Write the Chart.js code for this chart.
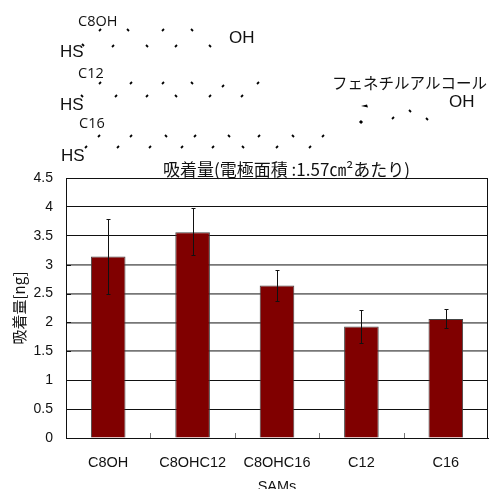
<!DOCTYPE html>
<html>
<head>
<meta charset="utf-8">
<style>
	html, body { margin: 0; padding: 0; background: #fff; overflow: hidden; }
	#wrap { position: relative; width: 491px; height: 489px; }
</style>
<script src="https://cdn.jsdelivr.net/npm/chart.js@4/dist/chart.umd.js"></script>
</head>
<body>
<div id="wrap"><canvas id="sams_chart" width="491" height="489"></canvas></div>
<script>
const categories = ['C8OH', 'C8OHC12', 'C8OHC16', 'C12', 'C16'];
const adsorption = [3.14, 3.56, 2.64, 1.93, 2.06];
const errorHigh = [3.79, 3.98, 2.91, 2.21, 2.23];
const errorLow = [2.50, 3.16, 2.37, 1.64, 1.90];
const yTicks = [0, 0.5, 1, 1.5, 2, 2.5, 3, 3.5, 4, 4.5];
const greyTicks = [1.5, 2, 2.5, 3];

const latin = '"Liberation Sans", Arial, sans-serif';
const jp = '"Noto Sans CJK JP", sans-serif';

// the molecule drawings above the chart: [x, y, slant]
const bonds = [
	[100, 30, 1], [128, 30, -1], [163, 30, 1], [192, 30, -1],
	[83, 45, -1], [113, 46, 1], [147, 46, -1], [176, 46, 1], [210, 46, -1],
	[100, 83, 1], [131, 83, 1], [163, 83, 1], [192, 83, -1], [223, 86, 1], [258, 83, 1],
	[82, 96, -1], [116, 96, 1], [147, 96, 1], [176, 96, -1], [210, 96, 1], [242, 96, 1],
	[99, 136, 1], [131, 136, 1], [166, 136, -1], [195, 136, 1], [229, 136, -1], [259, 136, 1], [293, 136, -1], [323, 136, 1],
	[86, 147, 1], [118, 147, 1], [150, 147, 1], [182, 147, 1], [213, 147, 1], [243, 147, -1], [277, 147, 1], [310, 147, 1],
	[393, 118, 1], [410, 111, -1], [427, 119, -1]
];
// text, x, baseline, font
const labels = [
	['C8OH', 78, 26, '14.5px "Open Sans", sans-serif'],
	['C12', 78, 78, '14.5px "Open Sans", sans-serif'],
	['C16', 79, 128, '14.5px "Open Sans", sans-serif'],
	['HS', 60, 57, '17px ' + latin],
	['HS', 60, 110, '17px ' + latin],
	['HS', 61, 161, '17px ' + latin],
	['OH', 229, 43, '17px ' + latin],
	['OH', 449, 107, '17px ' + latin],
	['フェネチルアルコール', 332, 89, '15.5px ' + jp],
	['吸着量(電極面積 :1.57㎝²あたり)', 163, 176, '17px ' + jp]
];

// error bars, tick marks and the molecule drawings
const overlay = {
	id: 'overlay',
	afterDatasetsDraw(chart) {
		const ctx = chart.ctx;
		const x = chart.scales.x;
		const y = chart.scales.y;

		ctx.save();
		ctx.strokeStyle = '#111';
		ctx.lineWidth = 1;

		// right border of the plot
		ctx.beginPath();
		ctx.moveTo(x.right - 0.5, y.top);
		ctx.lineTo(x.right - 0.5, y.bottom);
		ctx.stroke();

		categories.forEach((c, i) => {
			const px = Math.round(x.getPixelForValue(i)) + 0.5;
			const top = Math.round(y.getPixelForValue(errorHigh[i])) + 0.5;
			const bottom = Math.round(y.getPixelForValue(errorLow[i])) + 0.5;
			ctx.beginPath();
			ctx.moveTo(px, top);
			ctx.lineTo(px, bottom);
			ctx.moveTo(px - 2, top);
			ctx.lineTo(px + 2, top);
			ctx.moveTo(px - 2, bottom);
			ctx.lineTo(px + 2, bottom);
			ctx.stroke();
		});

		// short inward ticks on the grey gridlines
		greyTicks.forEach(v => {
			const py = Math.round(y.getPixelForValue(v)) + 0.5;
			ctx.beginPath();
			ctx.moveTo(x.left, py);
			ctx.lineTo(x.left + 5, py);
			ctx.stroke();
		});

		// category separators, pointing up from the axis
		ctx.strokeStyle = '#777';
		for (let i = 1; i < categories.length; i++) {
			const px = Math.round((x.getPixelForValue(i - 1) + x.getPixelForValue(i)) / 2) + 0.5;
			ctx.beginPath();
			ctx.moveTo(px, y.bottom);
			ctx.lineTo(px, y.bottom - 5);
			ctx.stroke();
		}
		ctx.restore();
	},
	afterDraw(chart) {
		const ctx = chart.ctx;
		ctx.save();
		ctx.strokeStyle = '#000';
		ctx.fillStyle = '#000';
		ctx.lineWidth = 1.8;
		bonds.forEach(b => {
			ctx.beginPath();
			ctx.moveTo(b[0] - 1, b[1] + b[2]);
			ctx.lineTo(b[0] + 1, b[1] - b[2]);
			ctx.stroke();
		});

		// the two heavier bonds at the phenyl end
		ctx.beginPath();
		ctx.moveTo(361, 106);
		ctx.lineTo(367, 104.5);
		ctx.lineTo(368, 107.5);
		ctx.closePath();
		ctx.fill();
		ctx.lineWidth = 3;
		ctx.beginPath();
		ctx.moveTo(360, 123);
		ctx.lineTo(362, 121);
		ctx.stroke();

		ctx.fillStyle = '#111';
		ctx.textBaseline = 'alphabetic';
		ctx.textAlign = 'left';
		labels.forEach(l => {
			ctx.font = l[3];
			ctx.fillText(l[0], l[1], l[2]);
		});
		ctx.restore();
	}
};

const ctx = document.getElementById('sams_chart').getContext('2d');
const myChart = new Chart(ctx, {
	type: 'bar',
	data: {
		labels: categories,
		datasets: [{
			label: '吸着量',
			data: adsorption,
			backgroundColor: '#800000',
			borderColor: '#444',
			borderWidth: 1,
			categoryPercentage: 1,
			barPercentage: 0.41
		}]
	},
	plugins: [overlay],
	options: {
		responsive: false,
		animation: false,
		layout: { padding: { top: 178, left: 0, right: 3, bottom: 0 } },
		plugins: {
			legend: { display: false },
			tooltip: { enabled: false },
			title: { display: false }
		},
		scales: {
			x: {
				afterFit(scale) { scale.height = 51; },
				grid: { display: false, drawTicks: false },
				border: { color: '#111', width: 1 },
				ticks: { color: '#111', font: { family: latin, size: 14.5 }, padding: 16, maxRotation: 0, autoSkip: false },
				title: { display: true, text: 'SAMs', color: '#111', font: { family: latin, size: 14.5, lineHeight: 0.6 }, padding: { top: 0, bottom: -2 } }
			},
			y: {
				min: 0,
				max: 4.5,
				afterFit(scale) { scale.width = 66; },
				afterBuildTicks(scale) { scale.ticks = yTicks.map(v => ({ value: v })); },
				grid: {
					drawTicks: false,
					lineWidth: c => greyTicks.includes(c.tick.value) ? 1.7 : 1,
					color: c => greyTicks.includes(c.tick.value) ? '#777' : '#111'
				},
				border: { color: '#111', width: 1 },
				ticks: { color: '#111', font: { family: latin, size: 14 }, padding: 13, callback: v => String(v) },
				title: { display: true, text: '吸着量[ng]', color: '#111', font: { family: jp, size: 15 }, padding: { top: 10, bottom: 0 } }
			}
		}
	}
});
</script>
</body>
</html>
